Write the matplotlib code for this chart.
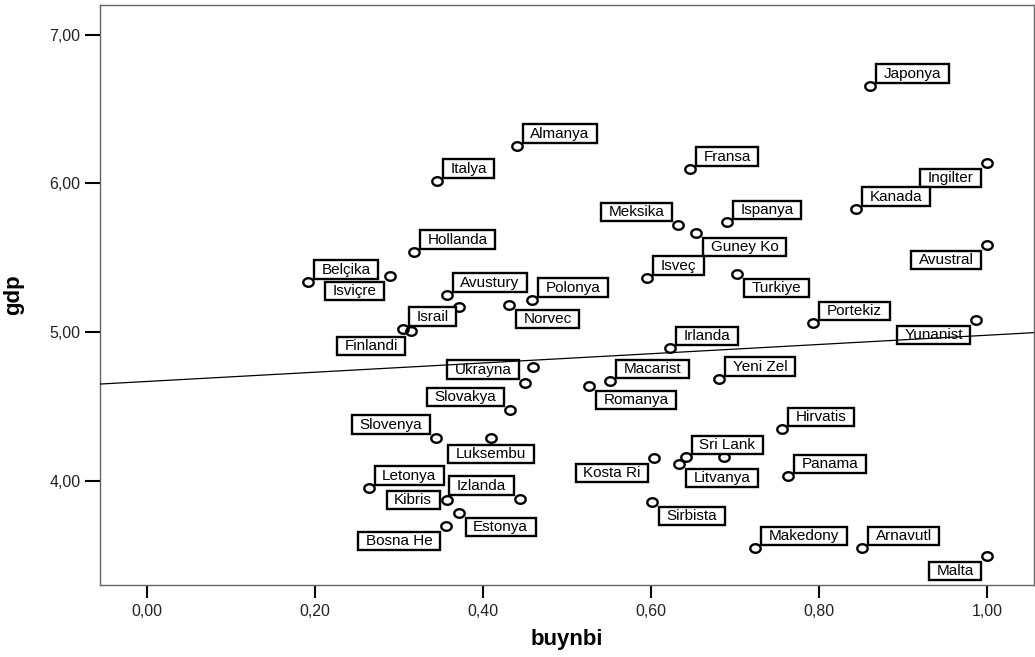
import numpy as np
import matplotlib
matplotlib.use('Agg')
import matplotlib.pyplot as plt
from matplotlib.path import Path
from matplotlib.ticker import FuncFormatter

# country data (buynbi, gdp)
countries = ['Japonya', 'Almanya', 'Italya', 'Fransa', 'Ingilter', 'Kanada',
             'Meksika', 'Guney Ko', 'Ispanya', 'Hollanda', 'Belçika', 'Isviçre',
             'Avustral', 'Isveç', 'Turkiye', 'Avustury', 'Polonya', 'Norvec',
             '', 'Israil', 'Finlandi', 'Portekiz', 'Yunanist', 'Irlanda',
             '', 'Ukrayna', 'Macarist', 'Romanya', 'Yeni Zel', 'Slovakya',
             'Slovenya', 'Luksembu', 'Hirvatis', 'Kosta Ri', 'Sri Lank', 'Litvanya',
             '', 'Panama', 'Letonya', 'Kibris', 'Izlanda', 'Estonya',
             'Bosna He', 'Sirbista', 'Makedony', 'Arnavutl', 'Malta']
buynbi = [0.861, 0.440, 0.345, 0.646, 1.000, 0.844,
          0.632, 0.654, 0.690, 0.318, 0.192, 0.290,
          1.000, 0.595, 0.702, 0.357, 0.458, 0.431,
          0.372, 0.305, 0.315, 0.793, 0.987, 0.622,
          0.459, 0.450, 0.551, 0.526, 0.681, 0.432,
          0.344, 0.410, 0.756, 0.604, 0.641, 0.633,
          0.687, 0.763, 0.264, 0.357, 0.444, 0.371,
          0.356, 0.601, 0.724, 0.851, 1.000]
gdp = [6.657, 6.254, 6.018, 6.099, 6.139, 5.830,
       5.722, 5.668, 5.742, 5.541, 5.339, 5.379,
       5.588, 5.366, 5.393, 5.252, 5.218, 5.184,
       5.171, 5.023, 5.009, 5.063, 5.083, 4.895,
       4.767, 4.660, 4.673, 4.640, 4.687, 4.478,
       4.290, 4.290, 4.350, 4.155, 4.162, 4.115,
       4.162, 4.034, 3.954, 3.873, 3.880, 3.785,
       3.698, 3.859, 3.550, 3.550, 3.496]
# where each label box sits relative to its point
placement = ['ur', 'ur', 'ur', 'ur', 'dl', 'ur',
             'ul', 'dr', 'ur', 'ur', 'ur', 'dl',
             'dl', 'ur', 'dr', 'ur', 'ur', 'dr',
             '', 'ur', 'dl', 'ur', 'dl', 'ur',
             '', 'ul', 'ur', 'dr', 'ur', 'ul',
             'ul', 'd', 'ur', 'dl', 'ur', 'dr',
             '', 'ur', 'ur', 'l', 'ul', 'dr',
             'dl', 'dr', 'ur', 'ur', 'dl']

x_ticks = [0.0, 0.2, 0.4, 0.6, 0.8, 1.0]
y_ticks = [4.0, 5.0, 6.0, 7.0]

plt.rcParams['font.family'] = ['Liberation Sans', 'DejaVu Sans']

fig = plt.figure(figsize=(10.35, 6.57), dpi=100)
ax = fig.add_axes([0.0966, 0.1096, 0.9024, 0.8828])

# fit line (least squares through the points)
b, a = np.polyfit(buynbi, gdp, 1)
xl = np.array([-0.06, 1.06])
ax.plot(xl, a + b * xl, color='black', lw=0.9, zorder=5)

# slightly flattened hollow circle marker
t = np.linspace(0, 2 * np.pi, 60)
ring = Path(np.column_stack([np.cos(t), 0.82 * np.sin(t)]))
ax.plot(buynbi, gdp, linestyle='none', marker=ring, markersize=7.5,
        markerfacecolor='none', markeredgecolor='black', markeredgewidth=1.7,
        zorder=3)


def label_box(x0, y0, width, height, mutation_size):
    px = 0.5 * mutation_size
    py = 0.14 * mutation_size
    x0, y0 = x0 - px, y0 - py
    x1, y1 = x0 + width + 2 * px, y0 + height + 2 * py
    return Path([(x0, y0), (x1, y0), (x1, y1), (x0, y1), (x0, y0)],
                [Path.MOVETO, Path.LINETO, Path.LINETO, Path.LINETO, Path.CLOSEPOLY])


fs = 11
padx = 0.5 * fs * 100 / 72
pady = 0.14 * fs * 100 / 72
offsets = {
    'ur': ((6 + padx, 3 + pady), 'left', 'bottom'),
    'ul': ((-6 - padx, 4 + pady), 'right', 'bottom'),
    'dr': ((7 + padx, -5 - pady), 'left', 'top'),
    'dl': ((-6 - padx, -6 - pady), 'right', 'top'),
    'd': ((0, -7 - pady), 'center', 'top'),
    'l': ((-7 - padx, 0), 'right', 'center'),
}
for name, xv, yv, pos in zip(countries, buynbi, gdp, placement):
    if not name:
        continue
    off, ha, va = offsets[pos]
    ax.annotate(name, (xv, yv), xytext=off, textcoords='offset pixels',
                ha=ha, va=va, fontsize=fs, color='black', zorder=4,
                bbox=dict(boxstyle=label_box, facecolor='white',
                          edgecolor='black', linewidth=1.7))

ax.set_xlim(-0.0555, 1.0555)
ax.set_ylim(3.30, 7.20)
ax.set_xticks(x_ticks)
ax.set_yticks(y_ticks)
fmt = FuncFormatter(lambda v, p: f'{v:.2f}'.replace('.', ','))
ax.xaxis.set_major_formatter(fmt)
ax.yaxis.set_major_formatter(fmt)
ax.tick_params(axis='x', direction='out', length=9, width=1.5, pad=5,
               labelsize=11.5, labelcolor='#222222')
ax.tick_params(axis='y', direction='out', length=11, width=1.5, pad=3,
               labelsize=11.5, labelcolor='#222222')
for s in ax.spines.values():
    s.set_color('#666666')
    s.set_linewidth(1.0)

ax.set_xlabel('buynbi', fontsize=16, fontweight='bold')
ax.set_ylabel('gdp', fontsize=16, fontweight='bold')
ax.xaxis.set_label_coords(0.5, -0.076)
ax.yaxis.set_label_coords(-0.081, 0.5)

fig.savefig('out.png', dpi=100)
